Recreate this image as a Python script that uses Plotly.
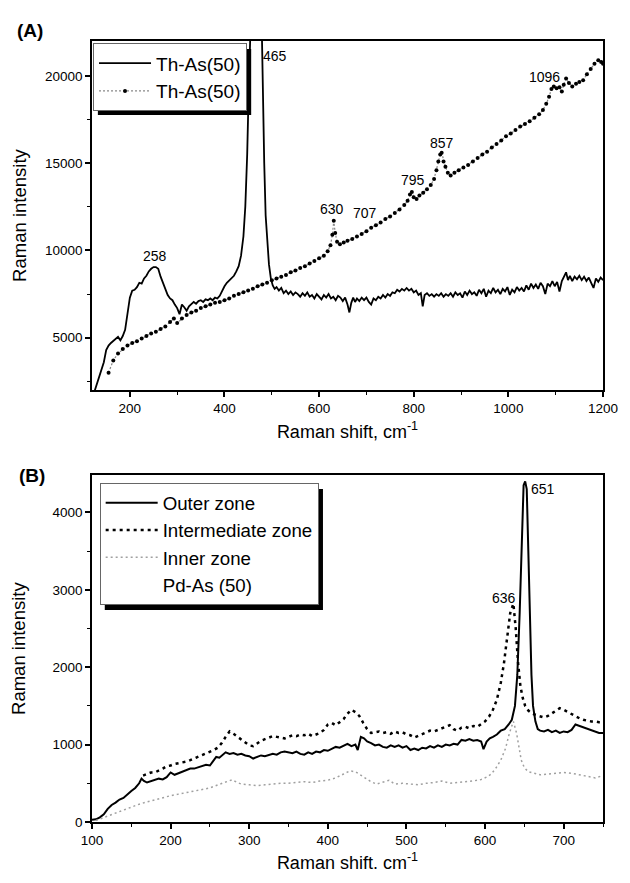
import plotly.graph_objects as go

# ---------------- Panel A data ----------------
a_solid_x = [125, 130, 135, 140, 145, 150, 155, 160, 165, 170, 175, 180, 185, 190, 195, 200, 205, 210, 215, 220,
             225, 230, 235, 240, 245, 250, 255, 260, 265, 270, 275, 280, 285, 290, 295, 300, 305, 310, 315, 320,
             325, 330, 335, 340, 345, 350, 355, 360, 365, 370, 375, 380, 385, 390, 395, 400, 405, 410, 415, 420,
             425, 430, 435, 440, 444, 448, 451, 454, 465, 478, 481, 484, 487, 490, 494, 498, 502, 506, 510,
             515, 520, 525, 530, 535, 540, 545, 550, 555, 560, 565, 570, 575, 580, 585, 590, 595, 600, 605, 610,
             615, 620, 625, 630, 635, 640, 645, 650, 655, 660, 664, 668, 672, 676, 680, 685, 690, 695, 700, 705,
             710, 715, 720, 725, 730, 735, 740, 745, 750, 755, 760, 765, 770, 775, 780, 785, 790, 795, 800, 805,
             810, 815, 819, 823, 828, 833, 838, 843, 848, 853, 858, 863, 868, 873, 878, 883, 888, 893, 898, 903,
             908, 913, 918, 923, 928, 933, 938, 943, 948, 953, 958, 963, 968, 973, 978, 983, 988, 993, 998, 1003,
             1008, 1013, 1018, 1023, 1028, 1033, 1038, 1043, 1048, 1053, 1058, 1063, 1068, 1073, 1078, 1083, 1088,
             1093, 1098, 1103, 1108, 1113, 1118, 1122, 1126, 1130, 1135, 1140, 1145, 1150, 1155, 1160, 1165, 1170,
             1175, 1180, 1185, 1190, 1195, 1200]
a_solid_y = [1900, 2300, 2700, 3100, 3600, 4300, 4550, 4700, 4800, 4950, 5050, 4850, 5100, 5450, 6300, 7300, 7700, 7750, 7900, 8150,
             8100, 8400, 8550, 8800, 8950, 9050, 9050, 8950, 8500, 8150, 7700, 7450, 7250, 7150, 6900, 6700, 6350, 6900, 6750, 6550,
             6800, 6900, 7050, 6950, 7100, 7150, 7050, 7200, 7150, 7250, 7150, 7300, 7250, 7400, 7700, 7950, 8150, 8300, 8400, 8550,
             8800, 9100, 9700, 10800, 12500, 15500, 19000, 23000, 32000, 24000, 19000, 15000, 12000, 10500, 9200, 8400, 8000, 7800, 7900,
             7700, 7850, 7550, 7700, 7500, 7650, 7450, 7600, 7500, 7350, 7550, 7400, 7600, 7350, 7450, 7250, 7500, 7350, 7200, 7450,
             7300, 7500, 7250, 7350, 7150, 7400, 7300, 7100, 7300, 6900, 6450, 7000, 7300, 7050, 7250, 7100, 7300, 7150, 7300, 7050,
             6900, 7250, 7150, 7350, 7250, 7450, 7300, 7500, 7400, 7600, 7550, 7750, 7650, 7800, 7700, 7850, 7700, 7800, 7600, 7700,
             7450, 7550, 6800, 7450, 7550, 7400, 7500, 7350, 7500, 7400, 7550, 7350, 7500, 7400, 7550, 7350, 7600, 7450, 7550, 7300,
             7650, 7450, 7700, 7500, 7600, 7400, 7750, 7550, 7800, 7350, 7700, 7550, 7850, 7600, 7750, 7500, 7800, 7650, 7900, 7450,
             7750, 7600, 7900, 7700, 7850, 7650, 8000, 7750, 8100, 7850, 8050, 7800, 8150, 7950, 7500, 8100, 7950,
             8250, 7950, 8200, 7650, 8250, 8500, 8750, 8300, 8550, 8250, 8500, 8350, 8550, 8300, 8500, 8250, 8450,
             8150, 7850, 8400, 8200, 8450, 8300]

a_dot_x = [155, 165, 175, 185, 195, 205, 215, 225, 235, 245, 255, 265, 275, 285, 293, 300, 310, 320, 330, 340,
           350, 360, 370, 380, 390, 400, 410, 420, 430, 440, 450, 460, 470, 480, 490, 500, 510, 520, 530, 540,
           550, 560, 570, 580, 590, 600, 610, 618, 624, 628, 631, 634, 638, 644, 652, 660, 670, 680, 690, 700,
           710, 720, 730, 740, 750, 760, 770, 780, 787, 792, 796, 800, 806, 812, 820, 828, 836, 843, 848, 852,
           856, 859, 863, 867, 872, 878, 886, 895, 905, 915, 925, 935, 945, 955, 965, 975, 985, 995, 1005, 1015,
           1025, 1035, 1045, 1055, 1065, 1073, 1080, 1086, 1091, 1096, 1102, 1108, 1113, 1117, 1122, 1128, 1135,
           1143, 1150, 1158, 1166, 1174, 1182, 1190, 1196, 1200]
a_dot_y = [3000, 3700, 4100, 4350, 4550, 4700, 4800, 4950, 5100, 5250, 5350, 5500, 5650, 5900, 6100, 5850, 6100, 6300, 6450, 6550,
           6700, 6800, 6900, 7000, 7050, 7150, 7250, 7400, 7500, 7600, 7700, 7800, 7950, 8050, 8150, 8300, 8400, 8500, 8600, 8750,
           8850, 9000, 9100, 9250, 9400, 9550, 9700, 9950, 10300, 10900, 11700, 11000, 10500, 10350, 10450, 10550, 10650, 10800, 10950, 11100,
           11300, 11450, 11600, 11800, 11950, 12150, 12350, 12600, 12850, 13200, 13350, 13050, 12950, 13150, 13300, 13500, 13750, 14100, 14600, 15100,
           15500, 15600, 15100, 14800, 14450, 14300, 14450, 14600, 14750, 14900, 15100, 15300, 15500, 15650, 15900, 16100, 16300, 16550, 16700, 16900,
           17100, 17250, 17400, 17600, 17800, 18050, 18400, 18800, 19250, 19400, 19300, 19350, 19100, 19500, 19850, 19600, 19400,
           19550, 19650, 19750, 20100, 20400, 20700, 20900, 20800, 20700]

a_peak_labels = ["258", "465", "630", "707", "795", "857", "1096"]
a_peak_x = [254, 506, 628, 697, 798, 859, 1076]
a_peak_y = [9700, 21150, 12400, 12150, 14050, 16150, 19950]

# ---------------- Panel B data ----------------
b_outer_x = [100, 105, 110, 115, 120, 125, 130, 135, 140, 145, 150, 155, 160, 163, 166, 170, 175, 180, 185, 190,
             195, 200, 205, 210, 215, 220, 225, 230, 235, 240, 245, 250, 255, 258, 262, 266, 270, 275, 280, 285,
             290, 295, 300, 305, 310, 315, 320, 325, 330, 335, 340, 345, 350, 355, 360, 365, 370, 375, 380, 385,
             390, 395, 400, 405, 410, 415, 420, 425, 430, 435, 438, 442, 446, 450, 455, 460, 465, 470, 475, 480,
             485, 490, 495, 500, 505, 510, 515, 520, 525, 530, 535, 540, 545, 550, 555, 560, 565, 570, 575, 580,
             585, 590, 595, 598, 602, 606, 610, 615, 620, 625, 630, 634, 638, 641, 644, 647, 649, 651, 653, 655,
             657, 659, 661, 664, 667, 670, 675, 680, 685, 690, 695, 700, 705, 710, 715, 720, 725, 730, 735, 740,
             745, 750]
b_outer_y = [30, 35, 60, 100, 170, 220, 250, 290, 310, 360, 400, 440, 500, 560, 530, 510, 530, 540, 560, 550,
             580, 640, 610, 630, 650, 660, 690, 690, 710, 720, 740, 730, 790, 840, 830, 870, 900, 880, 890, 870,
             880, 860, 850, 820, 840, 860, 850, 870, 880, 870, 900, 910, 900, 890, 910, 880, 870, 900, 880, 910,
             900, 930, 920, 950, 970, 960, 990, 1010, 980, 1000, 930, 1100, 1080, 1040, 1020, 990, 1000, 970, 960, 990,
             970, 990, 960, 980, 930, 950, 930, 960, 950, 980, 960, 990, 970, 1000, 990, 1010, 1000, 1060, 1050, 1070,
             1050, 1060, 1040, 940, 1040, 1080, 1100, 1130, 1180, 1200, 1260, 1320, 1500, 1900, 2700, 3700, 4350, 4400, 4300, 3500,
             2600, 1900, 1500, 1300, 1200, 1180, 1170, 1190, 1160, 1180, 1150, 1170, 1160, 1190, 1260, 1240, 1220, 1200, 1180, 1160,
             1150, 1150]

b_mid_x = [165, 170, 175, 180, 185, 190, 195, 200, 205, 210, 215, 220, 225, 230, 235, 240, 245, 250, 255, 260,
           265, 270, 275, 280, 285, 290, 295, 300, 305, 310, 315, 320, 325, 330, 335, 340, 345, 350, 355, 360,
           365, 370, 375, 380, 385, 390, 395, 400, 405, 410, 415, 420, 425, 430, 435, 440, 445, 450, 455, 460,
           465, 470, 475, 480, 485, 490, 495, 500, 505, 510, 515, 520, 525, 530, 535, 540, 545, 550, 555, 560,
           565, 570, 575, 580, 585, 590, 595, 600, 605, 610, 615, 620, 624, 628, 632, 636, 639, 642, 645, 648,
           651, 655, 660, 665, 670, 675, 680, 685, 690, 695, 700, 705, 710, 715, 720, 725, 730, 735, 740, 745, 750]
b_mid_y = [600, 620, 640, 640, 660, 690, 720, 730, 750, 760, 770, 780, 800, 820, 840, 860, 880, 900, 930, 960,
           1020, 1100, 1170, 1140, 1100, 1060, 1020, 990, 980, 1020, 1050, 1070, 1090, 1110, 1100, 1090, 1080, 1100, 1120, 1110,
           1130, 1120, 1140, 1110, 1130, 1150, 1190, 1260, 1280, 1250, 1290, 1330, 1400, 1450, 1420, 1370, 1280, 1200, 1150, 1160,
           1170, 1150, 1160, 1140, 1170, 1150, 1160, 1130, 1120, 1090, 1110, 1140, 1160, 1180, 1170, 1190, 1200, 1220, 1250, 1200,
           1180, 1220, 1230, 1210, 1240, 1230, 1260, 1300, 1360, 1450, 1580, 1800, 2050, 2400, 2700, 2820, 2500, 2050, 1750, 1600,
           1500, 1440, 1400, 1380, 1360, 1350, 1370, 1400, 1440, 1470, 1450, 1420, 1400, 1360, 1340, 1320, 1310, 1300, 1300, 1290, 1290]

b_inner_x = [105, 110, 120, 130, 140, 150, 160, 170, 180, 190, 200, 210, 220, 230, 240, 250, 260, 270, 278, 285,
             290, 300, 310, 320, 330, 340, 350, 360, 370, 380, 390, 400, 410, 420, 428, 435, 440, 448, 455, 462,
             470, 478, 485, 495, 505, 515, 525, 535, 545, 555, 565, 575, 585, 595, 602, 608, 614, 620, 626, 631,
             636, 640, 643, 646, 650, 655, 662, 670, 680, 690, 700, 710, 720, 730, 740, 750]
b_inner_y = [20, 40, 80, 120, 160, 200, 230, 260, 290, 320, 340, 360, 380, 400, 420, 440, 480, 520, 545, 510,
             490, 480, 470, 480, 490, 500, 500, 510, 520, 510, 530, 540, 570, 620, 660, 650, 620, 570, 520, 490,
             520, 540, 490, 500, 490, 480, 500, 510, 530, 500, 510, 520, 530, 550, 580, 620, 700, 800, 950, 1150,
             1300, 1150, 950, 800, 700, 650, 630, 610, 620, 630, 640, 630, 610, 590, 570, 600]

b_peak_labels = ["636", "651"]
b_peak_x = [624, 674]
b_peak_y = [2890, 4300]

# tick values
a_xticks = [200, 400, 600, 800, 1000, 1200]
a_xminor = [300, 500, 700, 900, 1100]
a_yticks = [5000, 10000, 15000, 20000]
a_yminor = [2500, 7500, 12500, 17500]
b_xticks = [100, 200, 300, 400, 500, 600, 700]
b_xminor = [150, 250, 350, 450, 550, 650, 750]
b_yticks = [0, 1000, 2000, 3000, 4000]
b_yminor = [500, 1500, 2500, 3500]

FONT = "Liberation Sans, Arial, sans-serif"

fig = go.Figure()

fig.add_trace(go.Scatter(x=a_solid_x, y=a_solid_y, mode="lines", name="Th-As(50)",
                         line=dict(color="black", width=1.8), xaxis="x", yaxis="y",
                         legend="legend", legendgroup="a1"))
fig.add_trace(go.Scatter(x=a_dot_x, y=a_dot_y, mode="lines+markers", name="Th-As(50)",
                         line=dict(color="#888888", width=1.2, dash="2px,2px"),
                         marker=dict(color="black", size=4),
                         xaxis="x", yaxis="y", legend="legend", legendgroup="a2"))

fig.add_trace(go.Scatter(x=b_outer_x, y=b_outer_y, mode="lines", name="Outer zone",
                         line=dict(color="black", width=2), xaxis="x2", yaxis="y2",
                         legend="legend2", legendgroup="b1"))
fig.add_trace(go.Scatter(x=b_mid_x, y=b_mid_y, mode="lines", name="Intermediate zone",
                         line=dict(color="black", width=2.5, dash="3px,4px"), xaxis="x2", yaxis="y2",
                         legend="legend2", legendgroup="b2"))
fig.add_trace(go.Scatter(x=b_inner_x, y=b_inner_y, mode="lines", name="Inner zone",
                         line=dict(color="#a0a0a0", width=1.5, dash="2px,3px"), xaxis="x2", yaxis="y2",
                         legend="legend2", legendgroup="b3"))
fig.add_trace(go.Scatter(x=[None], y=[None], mode="lines", name="Pd-As (50)",
                         line=dict(color="rgba(0,0,0,0)", width=0), xaxis="x2", yaxis="y2",
                         legend="legend2", legendgroup="b4"))

axis_common = dict(showline=True, linecolor="black", linewidth=1.5, mirror=True,
                   ticks="outside", ticklen=5, tickwidth=1.5, tickcolor="black",
                   showgrid=False, zeroline=False, tickformat="d",
                   tickfont=dict(family=FONT, size=13.5, color="black"))
minor_common = dict(ticks="outside", ticklen=3, tickwidth=1.2, tickcolor="black")

fig.update_layout(
    width=630, height=883,
    margin=dict(l=92, r=18, t=41, b=61),
    paper_bgcolor="white", plot_bgcolor="white",
    font=dict(family=FONT, color="black"),
    xaxis=dict(domain=[0, 1], anchor="y", range=[120, 1200], tickvals=a_xticks,
               minor=dict(tickvals=a_xminor, **minor_common),
               title=dict(text="Raman shift, cm<sup>-1</sup>", font=dict(family=FONT, size=18), standoff=10),
               **axis_common),
    yaxis=dict(domain=[0.553, 1], anchor="x", range=[2000, 22000], tickvals=a_yticks,
               minor=dict(tickvals=a_yminor, **minor_common),
               title=dict(text="Raman intensity", font=dict(family=FONT, size=18.5), standoff=14),
               **axis_common),
    xaxis2=dict(domain=[0, 1], anchor="y2", range=[100, 750], tickvals=b_xticks,
                minor=dict(tickvals=b_xminor, **minor_common),
                title=dict(text="Raman shift. cm<sup>-1</sup>", font=dict(family=FONT, size=18), standoff=9),
                **axis_common),
    yaxis2=dict(domain=[0, 0.444], anchor="x2", range=[0, 4480], tickvals=b_yticks,
                minor=dict(tickvals=b_yminor, **minor_common),
                title=dict(text="Raman intensity", font=dict(family=FONT, size=18.5), standoff=22),
                **axis_common),
    legend=dict(x=0.002, y=0.997, xanchor="left", yanchor="top", bgcolor="white",
                bordercolor="#666666", borderwidth=1, font=dict(family=FONT, size=19),
                itemwidth=52, tracegroupgap=0, traceorder="grouped"),
    legend2=dict(x=0.015, y=0.434, xanchor="left", yanchor="top", bgcolor="white",
                 bordercolor="#666666", borderwidth=1, font=dict(family=FONT, size=18.7),
                 itemwidth=52, tracegroupgap=0, traceorder="grouped"),
    showlegend=True,
)

# legend drop shadows
fig.add_shape(type="rect", xref="paper", yref="paper", x0=0.0115, x1=0.3115, y0=0.9052, y1=0.9898,
              fillcolor="black", line=dict(width=0))
fig.add_shape(type="rect", xref="paper", yref="paper", x0=0.025, x1=0.452, y0=0.2714, y1=0.4264,
              fillcolor="black", line=dict(width=0))

# panel labels
fig.add_annotation(text="<b>(A)</b>", xref="paper", yref="paper", x=-0.121, y=1.014,
                   xanchor="center", yanchor="middle",
                   showarrow=False, font=dict(family=FONT, size=19))
fig.add_annotation(text="<b>(B)</b>", xref="paper", yref="paper", x=-0.117, y=0.444,
                   xanchor="center", yanchor="middle",
                   showarrow=False, font=dict(family=FONT, size=19))

for t, xv, yv in zip(a_peak_labels, a_peak_x, a_peak_y):
    fig.add_annotation(text=t, x=xv, y=yv, xref="x", yref="y", showarrow=False,
                       font=dict(family=FONT, size=14))
for t, xv, yv in zip(b_peak_labels, b_peak_x, b_peak_y):
    fig.add_annotation(text=t, x=xv, y=yv, xref="x2", yref="y2", showarrow=False,
                       font=dict(family=FONT, size=14))

fig.write_html("out.html")
